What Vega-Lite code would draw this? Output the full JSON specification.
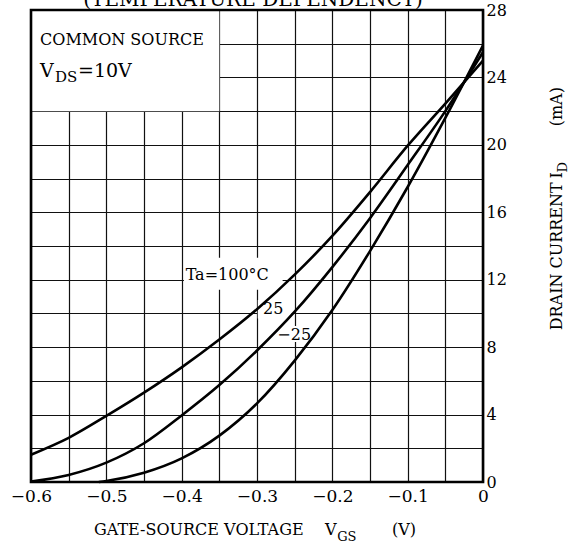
{
  "$schema": "https://vega.github.io/schema/vega-lite/v6.json",
  "width": 452,
  "height": 472,
  "autosize": {"type": "none"},
  "padding": {"left": 31, "top": 10, "right": 88, "bottom": 62},
  "background": "white",
  "config": {
    "view": {"stroke": null},
    "text": {"font": "DejaVu Serif", "color": "black"}
  },
  "datasets": {
    "curves": [
      {"t": "100", "v": -0.6, "i": 1.62},
      {"t": "100", "v": -0.55, "i": 2.62},
      {"t": "100", "v": -0.5, "i": 3.92},
      {"t": "100", "v": -0.45, "i": 5.3},
      {"t": "100", "v": -0.4, "i": 6.8},
      {"t": "100", "v": -0.35, "i": 8.45},
      {"t": "100", "v": -0.3, "i": 10.25},
      {"t": "100", "v": -0.25, "i": 12.3},
      {"t": "100", "v": -0.2, "i": 14.6},
      {"t": "100", "v": -0.15, "i": 17.2},
      {"t": "100", "v": -0.1, "i": 19.95},
      {"t": "100", "v": -0.05, "i": 22.45},
      {"t": "100", "v": 0, "i": 25.0},
      {"t": "25", "v": -0.6, "i": 0.03},
      {"t": "25", "v": -0.55, "i": 0.42},
      {"t": "25", "v": -0.5, "i": 1.15},
      {"t": "25", "v": -0.45, "i": 2.3},
      {"t": "25", "v": -0.4, "i": 3.95},
      {"t": "25", "v": -0.35, "i": 5.75},
      {"t": "25", "v": -0.3, "i": 7.8},
      {"t": "25", "v": -0.25, "i": 10.1},
      {"t": "25", "v": -0.2, "i": 12.75},
      {"t": "25", "v": -0.15, "i": 15.65},
      {"t": "25", "v": -0.1, "i": 18.8},
      {"t": "25", "v": -0.05, "i": 22.0},
      {"t": "25", "v": 0, "i": 25.5},
      {"t": "-25", "v": -0.51, "i": 0},
      {"t": "-25", "v": -0.5, "i": 0.06},
      {"t": "-25", "v": -0.45, "i": 0.55},
      {"t": "-25", "v": -0.4, "i": 1.4},
      {"t": "-25", "v": -0.35, "i": 2.75},
      {"t": "-25", "v": -0.3, "i": 4.66},
      {"t": "-25", "v": -0.25, "i": 7.2},
      {"t": "-25", "v": -0.2, "i": 10.2},
      {"t": "-25", "v": -0.15, "i": 13.7},
      {"t": "-25", "v": -0.1, "i": 17.5},
      {"t": "-25", "v": -0.05, "i": 21.6},
      {"t": "-25", "v": 0, "i": 25.9}
    ],
    "bgs": [
      {"name": "box", "v": -0.6, "v2": -0.35, "i": 22, "i2": 28},
      {"name": "ta", "v": -0.397, "v2": -0.266, "i": 11.4, "i2": 13.3},
      {"name": "l25", "v": -0.299, "v2": -0.254, "i": 9.7, "i2": 10.8},
      {"name": "lm25", "v": -0.28, "v2": -0.23, "i": 8.3, "i2": 9.25}
    ],
    "frame": [{"v": -0.6, "v2": 0, "i": 0, "i2": 28}],
    "labels16": [
      {"text": "Ta=100°C", "v": -0.3947, "i": 12.0},
      {"text": "25", "v": -0.292, "i": 9.95},
      {"text": "−25", "v": -0.273, "i": 8.41},
      {"text": "COMMON SOURCE", "v": -0.588, "i": 25.9},
      {"text": "GATE-SOURCE VOLTAGE", "v": -0.5164, "i": -3.16},
      {"text": "V", "v": -0.2097, "i": -3.16},
      {"text": "(V)", "v": -0.1208, "i": -3.16}
    ],
    "subs": [
      {"text": "GS", "v": -0.1935, "i": -3.5}
    ],
    "big": [
      {"text": "V", "v": -0.588, "i": 24.0},
      {"text": "=10V", "v": -0.5376, "i": 24.0}
    ],
    "mid": [
      {"text": "DS", "v": -0.5681, "i": 23.71}
    ],
    "rot": [
      {"text": "DRAIN CURRENT", "v": 0.1049, "i": 9.0},
      {"text": "I", "v": 0.1049, "i": 18.0},
      {"text": "(mA)", "v": 0.1049, "i": 21.1}
    ],
    "rotsub": [
      {"text": "D", "v": 0.1115, "i": 18.36}
    ],
    "top": [
      {"text": "(TEMPERATURE DEPENDENCY)", "v": -0.3053, "i": 28.22}
    ]
  },
  "encoding": {
    "x": {
      "field": "v", "type": "quantitative",
      "scale": {"domain": [-0.6, 0], "nice": false, "zero": false},
      "axis": {
        "orient": "bottom",
        "values": [-0.6, -0.55, -0.5, -0.45, -0.4, -0.35, -0.3, -0.25, -0.2, -0.15, -0.1, -0.05, 0],
        "grid": true, "gridColor": "#111", "gridWidth": 1.2, "gridOpacity": 1,
        "ticks": false, "domain": false, "title": null,
        "labelFont": "DejaVu Serif", "labelFontSize": 17, "labelColor": "black",
        "labelPadding": 6, "labelOverlap": false, "labelFlush": false,
        "labelExpr": "abs(datum.value*10 - round(datum.value*10)) < 0.000001 ? (abs(datum.value) < 0.000001 ? '0' : format(datum.value, '.1f')) : ''"
      }
    },
    "y": {
      "field": "i", "type": "quantitative",
      "scale": {"domain": [0, 28], "nice": false, "zero": false},
      "axis": {
        "orient": "right",
        "values": [0, 2, 4, 6, 8, 10, 12, 14, 16, 18, 20, 22, 24, 26, 28],
        "grid": true, "gridColor": "#111", "gridWidth": 1.2, "gridOpacity": 1,
        "ticks": false, "domain": false, "title": null,
        "labelFont": "DejaVu Serif", "labelFontSize": 16, "labelColor": "black",
        "labelPadding": 3, "labelOverlap": false, "labelFlush": false,
        "labelAlign": "left", "labelBaseline": "middle",
        "labelExpr": "datum.value % 4 == 0 ? datum.label : ''"
      }
    }
  },
  "layer": [
    {
      "data": {"name": "bgs"},
      "mark": {"type": "rect", "fill": "white", "strokeWidth": 0},
      "encoding": {
        "x2": {"field": "v2"},
        "y2": {"field": "i2"}
      }
    },
    {
      "data": {"name": "curves"},
      "mark": {"type": "line", "color": "black", "strokeWidth": 2.6, "interpolate": "monotone"},
      "encoding": {
        "detail": {"field": "t", "type": "nominal"}
      }
    },
    {
      "data": {"name": "labels16"},
      "mark": {"type": "text", "fontSize": 16, "align": "left", "baseline": "alphabetic", "font": "DejaVu Serif"},
      "encoding": {"text": {"field": "text"}}
    },
    {
      "data": {"name": "subs"},
      "mark": {"type": "text", "fontSize": 13, "align": "left", "baseline": "alphabetic", "font": "DejaVu Serif"},
      "encoding": {"text": {"field": "text"}}
    },
    {
      "data": {"name": "big"},
      "mark": {"type": "text", "fontSize": 19, "align": "left", "baseline": "alphabetic", "font": "DejaVu Serif"},
      "encoding": {"text": {"field": "text"}}
    },
    {
      "data": {"name": "mid"},
      "mark": {"type": "text", "fontSize": 15, "align": "left", "baseline": "alphabetic", "font": "DejaVu Serif"},
      "encoding": {"text": {"field": "text"}}
    },
    {
      "data": {"name": "rot"},
      "mark": {"type": "text", "fontSize": 16, "align": "left", "baseline": "alphabetic", "angle": 270, "font": "DejaVu Serif"},
      "encoding": {"text": {"field": "text"}}
    },
    {
      "data": {"name": "rotsub"},
      "mark": {"type": "text", "fontSize": 13, "align": "left", "baseline": "alphabetic", "angle": 270, "font": "DejaVu Serif"},
      "encoding": {"text": {"field": "text"}}
    },
    {
      "data": {"name": "top"},
      "mark": {"type": "text", "fontSize": 20, "align": "center", "baseline": "alphabetic", "font": "DejaVu Serif"},
      "encoding": {"text": {"field": "text"}}
    },
    {
      "data": {"name": "frame"},
      "mark": {"type": "rect", "filled": false, "stroke": "black", "strokeWidth": 2.6},
      "encoding": {
        "x2": {"field": "v2"},
        "y2": {"field": "i2"}
      }
    }
  ]
}
